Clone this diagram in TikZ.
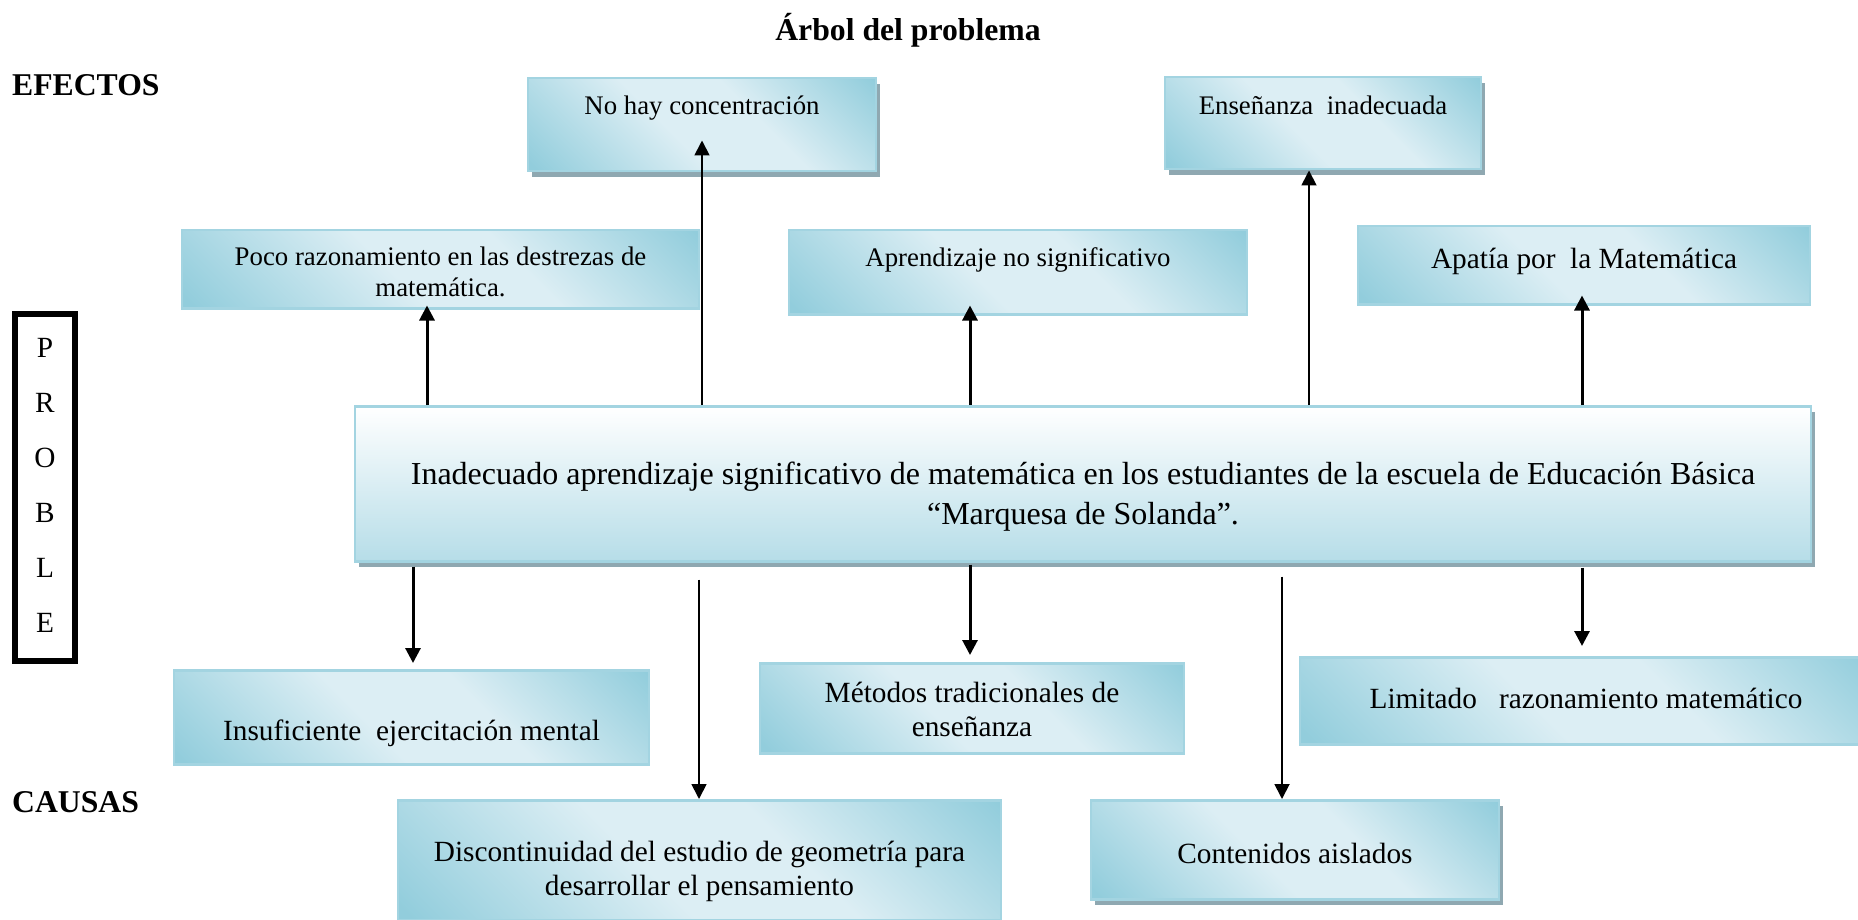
\documentclass[tikz,border=0pt]{standalone}
\usepackage{fontspec}
\setmainfont{Liberation Serif}
\usetikzlibrary{arrows.meta,calc,shadows}

\definecolor{box edge}{HTML}{A3D4E1}
\definecolor{box dark}{HTML}{92CDDC}
\definecolor{box light}{HTML}{DCEEF4}
\definecolor{main bottom}{HTML}{B6DDE8}
\definecolor{box shadow}{HTML}{8FA8B1}
\pgfdeclarehorizontalshading{glassy}{100bp}{color(0bp)=(box dark); color(16bp)=(box dark); color(44bp)=(box light); color(60bp)=(box light); color(85bp)=(box dark); color(100bp)=(box dark)}

\newcommand{\fontxi}{\fontsize{26.8}{30.9}\selectfont}
\newcommand{\fontxii}{\fontsize{29.3}{33.8}\selectfont}
\newcommand{\fontxiii}{\fontsize{31.7}{36.5}\selectfont}
\newcommand{\fontxiv}{\fontsize{32}{40}\selectfont}

\tikzset{
  glass box/.style={draw=box edge, line width=2.5pt, shade, shading=glassy, shading angle=45, align=center, inner sep=0pt, anchor=north},
  main box/.style={draw=box edge, line width=2.5pt, top color=white, bottom color=main bottom, align=center, inner sep=0pt, anchor=north},
  with shadow/.style={drop shadow={shadow xshift=4pt, shadow yshift=-6pt, fill=box shadow, opacity=1}},
  heading/.style={font=\fontxiii\bfseries, inner sep=0pt}
  }
\tikzstyle{short arrow} = [draw, line width=3pt, -{Triangle[length=15pt,width=15pt]}]
\tikzstyle{long arrow} = [draw, line width=1.8pt, -{Triangle[length=15pt,width=15pt]}]

\begin{document}
\begin{tikzpicture}[x=1pt,y=-1pt]
    \useasboundingbox (0,0) rectangle (1858,920);

    % Headings
    \node[heading, anchor=base] (title) at (908,41) {Árbol del problema};
    \node[heading, anchor=base west] (efectos) at (12,96) {EFECTOS};
    \node[heading, anchor=base west] (causas) at (12,812) {CAUSAS};
    \node[draw, line width=6pt, inner sep=0pt, minimum width=60pt, anchor=north, text height=318pt, text depth=29pt, align=center, font=\fontsize{29.3}{55}\selectfont] (problema) at (45,311) {P\\R\\O\\B\\L\\E};

    % The effects
    \node[glass box, with shadow, minimum width=348pt, text height=36pt, text depth=57pt, font=\fontxi] (nohay) at (702,77) {No hay concentración};
    \node[glass box, with shadow, minimum width=316pt, text height=37pt, text depth=55pt, font=\fontxi] (ensen) at (1323,76) {Enseñanza~ inadecuada};
    \node[glass box, minimum width=517pt, text height=66pt, text depth=12pt, font=\fontxi] (poco) at (440.5,229) {Poco razonamiento en las destrezas de\\matemática.};
    \node[glass box, minimum width=458pt, text height=36pt, text depth=48pt, font=\fontxi] (aprend) at (1018,229) {Aprendizaje no significativo};
    \node[glass box, minimum width=452pt, text height=42pt, text depth=36pt, font=\fontxii] (apatia) at (1584,225) {Apatía por~ la Matemática};

    % The problem
    \node[main box, with shadow, minimum width=1456pt, text height=118pt, text depth=37pt, font=\fontxiv] (main) at (1083,405) {Inadecuado aprendizaje significativo de matemática en los estudiantes de la escuela de Educación Básica\\“Marquesa de Solanda”.};

    % The causes
    \node[glass box, minimum width=475pt, text height=70pt, text depth=24pt, font=\fontxii] (insuf) at (411.5,669) {Insuficiente~ ejercitación mental};
    \node[glass box, minimum width=424pt, text height=73pt, text depth=17pt, font=\fontxii] (metodos) at (972,662) {Métodos tradicionales de\\enseñanza};
    \node[glass box, minimum width=572pt, text height=51pt, text depth=36pt, font=\fontxii] (limit) at (1586,656) {Limitado~~ razonamiento matemático};
    \node[glass box, minimum width=603pt, text height=95pt, text depth=25pt, font=\fontxii] (discont) at (699.5,799) {Discontinuidad del estudio de geometría para\\desarrollar el pensamiento};
    \node[glass box, with shadow, minimum width=408pt, text height=63pt, text depth=36pt, font=\fontxii] (conten) at (1295,799) {Contenidos aislados};

    % Arrows up to the effects
    \foreach \xpos/\name/\dy/\kind in {427/poco/4/short arrow, 702/nohay/32/long arrow, 970/aprend/10/short arrow, 1309/ensen/0/long arrow, 1582/apatia/10/short arrow}
      \path[\kind] (main.north -| \xpos,0) -- ($(\name.south -| \xpos,0)+(0,-\dy)$);

    % Arrows down to the causes
    \foreach \xpos/\name/\gap/\dy/\kind in {413/insuf/4/6/short arrow, 699/discont/17/0/long arrow, 970/metodos/2/7/short arrow, 1282/conten/14/0/long arrow, 1582/limit/5/10/short arrow}
      \path[\kind] ($(main.south -| \xpos,0)+(0,\gap)$) -- ($(\name.north -| \xpos,0)+(0,-\dy)$);
\end{tikzpicture}
\end{document}
